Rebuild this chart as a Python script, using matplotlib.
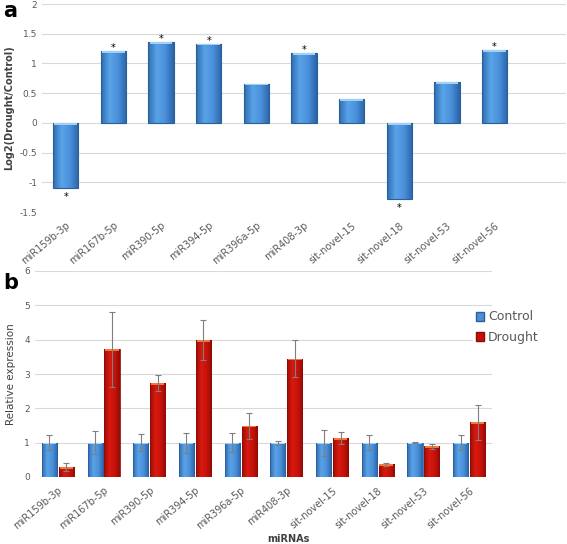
import matplotlib.pyplot as plt
import numpy as np
from matplotlib.colors import LinearSegmentedColormap
from matplotlib.patches import Patch

mirnas = ['miR159b-3p', 'miR167b-5p', 'miR390-5p', 'miR394-5p', 'miR396a-5p',
          'miR408-3p', 'sit-novel-15', 'sit-novel-18', 'sit-novel-53', 'sit-novel-56']

# panel a: log2 fold change
log2fc = [-1.10, 1.21, 1.36, 1.33, 0.66, 1.17, 0.40, -1.28, 0.68, 1.22]
signif = [True, True, True, True, False, True, False, True, False, True]

# panel b: relative expression
control = [1, 1, 1, 1, 1, 1, 1, 1, 1, 1]
control_err = [0.21, 0.34, 0.25, 0.29, 0.27, 0.06, 0.38, 0.21, 0.02, 0.21]
drought = [0.29, 3.72, 2.74, 3.98, 1.49, 3.45, 1.14, 0.37, 0.90, 1.59]
drought_err = [0.12, 1.10, 0.24, 0.58, 0.38, 0.55, 0.17, 0.05, 0.07, 0.52]

blue = '#4a8fd8'
blue_edge = '#2c5f99'
red = '#c8100a'
red_edge = '#8a0c06'
grid_c = '#d9d9d9'
txt_c = '#595959'

blue_grad = LinearSegmentedColormap.from_list('bg', ['#2f6cb0', '#5aa3e8', '#4a90da', '#2a64a8'])
red_grad = LinearSegmentedColormap.from_list('rg', ['#9a0c06', '#d81a10', '#c8120a', '#940a05'])

W, H = 567, 544
fig = plt.figure(figsize=(W / 100, H / 100), dpi=100)


def box(l, t, r, b):
    return [l / W, 1 - b / H, (r - l) / W, (b - t) / H]


def clean(ax):
    for s in ax.spines.values():
        s.set_visible(False)
    ax.tick_params(length=0, labelsize=6.5, colors=txt_c)
    ax.yaxis.grid(True, color=grid_c, linewidth=0.8)
    ax.set_axisbelow(True)


def shade(ax, bars, cmap, cap_color):
    # horizontal gradient inside each bar, plus a light cap at the bar end
    grad = np.linspace(0, 1, 64).reshape(1, -1)
    span = ax.get_ylim()[1] - ax.get_ylim()[0]
    for b in bars:
        x0, y0 = b.get_x(), b.get_y()
        w, h = b.get_width(), b.get_height()
        im = ax.imshow(grad, cmap=cmap, aspect='auto', zorder=b.get_zorder(),
                       extent=(x0, x0 + w, y0, y0 + h), interpolation='bicubic')
        im.set_clip_path(b)
        b.set_facecolor('none')
        b.set_zorder(b.get_zorder() + 0.1)
        c = 0.008 * span
        if h > 0:
            ax.bar(x0 + w / 2, c, bottom=y0 + h - c, width=w * 0.9,
                   color=cap_color, linewidth=0, zorder=b.get_zorder() + 0.05)
        else:
            ax.bar(x0 + w / 2, c, bottom=y0 - c, width=w * 0.9,
                   color=cap_color, linewidth=0, zorder=b.get_zorder() + 0.05)


# ---- panel a ----
ax1 = fig.add_axes(box(42, 4, 566, 212))
clean(ax1)
ax1.set_xlim(-0.5, 10.5)
ax1.set_ylim(-1.5, 2)
x = np.arange(len(mirnas))
bars_a = ax1.bar(x, log2fc, width=0.53, color=blue, edgecolor=blue_edge, linewidth=0.8)
shade(ax1, bars_a, blue_grad, '#9fd0f7')
for i, v in enumerate(log2fc):
    if signif[i]:
        off = -0.03 if v > 0 else -0.24
        ax1.text(i, v + off, '*', ha='center', va='bottom', fontsize=7, color='black')
ax1.set_yticks([-1.5, -1, -0.5, 0, 0.5, 1, 1.5, 2])
ax1.set_yticklabels(['-1.5', '-1', '-0.5', '0', '0.5', '1', '1.5', '2'])
ax1.set_xticks(x)
ax1.set_xticklabels(mirnas, rotation=40, ha='right', rotation_mode='anchor', fontsize=7)
ax1.tick_params(axis='x', pad=6)
ax1.set_ylabel('Log2(Drought/Control)', fontsize=7, fontweight='bold', color='#404040', labelpad=4)

# ---- panel b ----
ax2 = fig.add_axes(box(35, 271, 492, 477))
clean(ax2)
ax2.set_xlim(-0.5, 9.5)
ax2.set_ylim(0, 6)
w = 0.33
ekw = dict(ecolor='#7f7f7f', elinewidth=0.8, capsize=2, capthick=0.8, zorder=5)
bc = ax2.bar(x - 0.185, control, width=w, color=blue, edgecolor=blue_edge, linewidth=0.6,
             yerr=control_err, error_kw=ekw, label='Control')
bd = ax2.bar(x + 0.185, drought, width=w, color=red, edgecolor=red_edge, linewidth=0.6,
             yerr=drought_err, error_kw=ekw, label='Drought')
shade(ax2, bc, blue_grad, '#9fd0f7')
shade(ax2, bd, red_grad, '#f07a3a')
ax2.set_yticks(range(7))
ax2.set_xticks(x)
ax2.set_xticklabels(mirnas, rotation=40, ha='right', rotation_mode='anchor', fontsize=7)
ax2.tick_params(axis='x', pad=6)
ax2.set_ylabel('Relative expression', fontsize=7.5, color='#404040', labelpad=6)
fig.text(288 / W, 1 - 539 / H, 'miRNAs', ha='center', va='center', fontsize=7,
         fontweight='bold', color='#404040')

handles = [Patch(facecolor=blue, edgecolor=blue_edge, label='Control'),
           Patch(facecolor=red, edgecolor=red_edge, label='Drought')]
leg = fig.legend(handles=handles, loc='upper left', bbox_to_anchor=(473 / W, 1 - 308 / H),
                 frameon=True, fontsize=9, handlelength=0.7, handleheight=0.7,
                 handletextpad=0.3, labelspacing=0.6, borderpad=0.2, borderaxespad=0)
leg.get_frame().set_facecolor('white')
leg.get_frame().set_edgecolor('none')
leg.get_frame().set_alpha(1)
for t in leg.get_texts():
    t.set_color(txt_c)

fig.text(3 / W, 1 - 11 / H, 'a', fontsize=15, fontweight='bold', va='center')
fig.text(3 / W, 1 - 283 / H, 'b', fontsize=15, fontweight='bold', va='center')

fig.savefig('out.png', dpi=100)
